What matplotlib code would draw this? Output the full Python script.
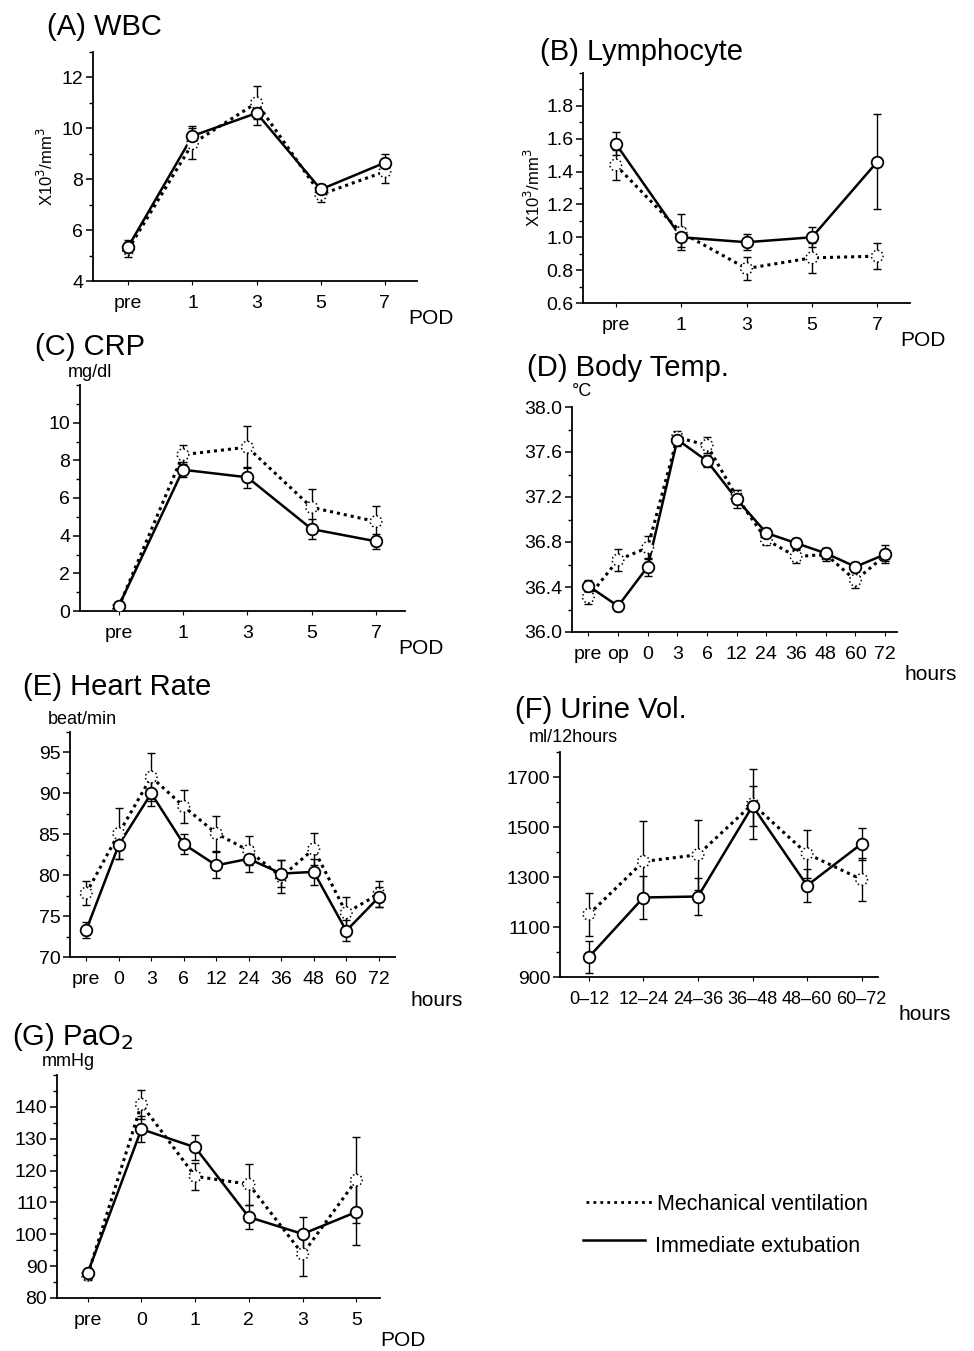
import numpy as np
import matplotlib
matplotlib.use('Agg')
import matplotlib.pyplot as plt
from matplotlib.ticker import MultipleLocator, FormatStrFormatter

plt.rcParams['font.family'] = ['Liberation Sans', 'DejaVu Sans']

#### data ####
# (A) WBC
wbc_x = ['pre', '1', '3', '5', '7']
wbc_ie = [5.35, 9.7, 10.6, 7.6, 8.65]
wbc_ie_err = [0.25, 0.4, 0.45, 0.2, 0.35]
wbc_mv = [5.25, 9.4, 11.0, 7.4, 8.3]
wbc_mv_err = [0.3, 0.6, 0.65, 0.3, 0.45]
wbc_yticks = [4, 6, 8, 10, 12]

# (B) Lymphocyte
lym_x = ['pre', '1', '3', '5', '7']
lym_ie = [1.57, 1.0, 0.97, 1.0, 1.46]
lym_ie_err = [0.07, 0.06, 0.05, 0.06, 0.29]
lym_mv = [1.44, 1.03, 0.81, 0.875, 0.885]
lym_mv_err = [0.09, 0.11, 0.07, 0.09, 0.08]
lym_yticks = [0.6, 0.8, 1.0, 1.2, 1.4, 1.6, 1.8]

# (C) CRP
crp_x = ['pre', '1', '3', '5', '7']
crp_ie = [0.25, 7.5, 7.1, 4.35, 3.7]
crp_ie_err = [0.1, 0.4, 0.55, 0.55, 0.4]
crp_mv = [0.2, 8.3, 8.7, 5.5, 4.75]
crp_mv_err = [0.1, 0.5, 1.1, 1.0, 0.85]
crp_yticks = [0, 2, 4, 6, 8, 10]

# (D) Body temperature
bt_x = ['pre', 'op', '0', '3', '6', '12', '24', '36', '48', '60', '72']
bt_ie = [36.41, 36.23, 36.58, 37.71, 37.52, 37.18, 36.88, 36.79, 36.70, 36.58, 36.69]
bt_ie_err = [0.05, 0.04, 0.08, 0.06, 0.05, 0.08, 0.04, 0.05, 0.05, 0.04, 0.08]
bt_mv = [36.31, 36.64, 36.75, 37.73, 37.66, 37.2, 36.82, 36.67, 36.69, 36.46, 36.68]
bt_mv_err = [0.06, 0.1, 0.1, 0.06, 0.07, 0.06, 0.05, 0.06, 0.06, 0.07, 0.05]
bt_yticks = [36.0, 36.4, 36.8, 37.2, 37.6, 38.0]

# (E) Heart rate
hr_x = ['pre', '0', '3', '6', '12', '24', '36', '48', '60', '72']
hr_ie = [73.3, 83.7, 90.0, 83.8, 81.2, 82.0, 80.2, 80.4, 73.2, 77.3]
hr_ie_err = [1.0, 1.7, 1.5, 1.2, 1.6, 1.6, 1.6, 1.6, 1.3, 1.2]
hr_mv = [77.8, 85.1, 92.0, 88.4, 85.1, 83.0, 79.8, 83.2, 75.4, 77.7]
hr_mv_err = [1.5, 3.1, 2.9, 2.0, 2.1, 1.8, 2.0, 2.0, 1.9, 1.6]
hr_yticks = [70, 75, 80, 85, 90, 95]

# (F) Urine volume
uv_x = ['0\u201312', '12\u201324', '24\u201336', '36\u201348', '48\u201360', '60\u201372']
uv_ie = [980, 1218, 1222, 1584, 1266, 1433]
uv_ie_err = [65, 85, 75, 80, 65, 65]
uv_mv = [1151, 1362, 1389, 1592, 1393, 1290]
uv_mv_err = [85, 163, 140, 140, 95, 85]
uv_yticks = [900, 1100, 1300, 1500, 1700]

# (G) PaO2
pa_x = ['pre', '0', '1', '2', '3', '5']
pa_ie = [87.8, 133.0, 127.3, 105.4, 100.1, 107.0]
pa_ie_err = [1.5, 4.0, 4.0, 3.8, 5.3, 10.4]
pa_mv = [87.2, 140.8, 118.2, 115.7, 93.8, 117.0]
pa_mv_err = [1.5, 4.5, 4.3, 6.5, 6.9, 13.5]
pa_yticks = [80, 90, 100, 110, 120, 130, 140]

W, H = 974, 1351


def make_axes(fig, l, r, t, b):
    return fig.add_axes([l / W, 1 - b / H, (r - l) / W, (b - t) / H])


def panel(ax, labels, ie, ie_err, mv, mv_err, ylim, yticks, minor, fmt, xlim):
    x = np.arange(len(labels))
    ax.errorbar(x, mv, yerr=mv_err, fmt='none', ecolor='black', elinewidth=1,
                capsize=3, capthick=1, zorder=2)
    ax.errorbar(x, ie, yerr=ie_err, fmt='none', ecolor='black', elinewidth=1,
                capsize=3, capthick=1, zorder=2)
    ax.plot(x, mv, color='black', lw=2.2, linestyle=(0, (1, 1.3)), zorder=3)
    ax.plot(x, ie, color='black', lw=1.8, linestyle='-', zorder=3)
    ax.scatter(x, mv, s=70, facecolor='white', edgecolor='black', linewidths=1.1,
               linestyles=':', zorder=4)
    ax.scatter(x, ie, s=70, facecolor='white', edgecolor='black', linewidths=1.3,
               zorder=5)
    ax.set_xticks(x)
    ax.set_xticklabels(labels)
    ax.set_xlim(xlim)
    ax.set_ylim(ylim)
    ax.set_yticks(yticks)
    ax.yaxis.set_minor_locator(MultipleLocator(minor))
    ax.yaxis.set_major_formatter(FormatStrFormatter(fmt))
    for s in ['top', 'right']:
        ax.spines[s].set_visible(False)
    ax.spines['left'].set_linewidth(1.3)
    ax.spines['bottom'].set_linewidth(1.3)
    ax.tick_params(axis='y', which='major', direction='out', length=5, width=1.1,
                   labelsize=14, pad=2)
    ax.tick_params(axis='y', which='minor', direction='out', length=3, width=1)
    ax.tick_params(axis='x', direction='out', length=3, width=0.8, labelsize=14, pad=7)


fig = plt.figure(figsize=(W / 100, H / 100), dpi=100)
fig.patch.set_facecolor('white')

title_fs = 21
unit_fs = 13

# (A)
ax = make_axes(fig, 93, 417, 52, 281)
panel(ax, wbc_x, wbc_ie, wbc_ie_err, wbc_mv, wbc_mv_err, (4, 13), wbc_yticks, 1, '%d', (-0.55, 4.5))
ax.set_ylabel('X10$^3$/mm$^3$', fontsize=12, labelpad=4)
fig.text(47 / W, 1 - 27 / H, '(A) WBC', fontsize=title_fs, va='center')
fig.text(408 / W, 1 - 318 / H, 'POD', fontsize=15, va='center')

# (B)
ax = make_axes(fig, 583, 910, 73, 303)
panel(ax, lym_x, lym_ie, lym_ie_err, lym_mv, lym_mv_err, (0.6, 2.0), lym_yticks, 0.1, '%.1f', (-0.5, 4.5))
ax.set_ylabel('X10$^3$/mm$^3$', fontsize=12, labelpad=2)
fig.text(540 / W, 1 - 52 / H, '(B) Lymphocyte', fontsize=title_fs, va='center')
fig.text(900 / W, 1 - 340 / H, 'POD', fontsize=15, va='center')

# (C)
ax = make_axes(fig, 80, 405, 385, 611)
panel(ax, crp_x, crp_ie, crp_ie_err, crp_mv, crp_mv_err, (0, 12), crp_yticks, 1, '%d', (-0.6, 4.45))
fig.text(35 / W, 1 - 347 / H, '(C) CRP', fontsize=title_fs, va='center')
fig.text(90 / W, 1 - 372 / H, 'mg/dl', fontsize=unit_fs, va='center', ha='center')
fig.text(398 / W, 1 - 648 / H, 'POD', fontsize=15, va='center')

# (D)
ax = make_axes(fig, 572, 897, 407, 632)
panel(ax, bt_x, bt_ie, bt_ie_err, bt_mv, bt_mv_err, (36.0, 38.0), bt_yticks, 0.2, '%.1f', (-0.55, 10.4))
fig.text(527 / W, 1 - 368 / H, '(D) Body Temp.', fontsize=title_fs, va='center')
fig.text(582 / W, 1 - 392 / H, '\u00b0C', fontsize=unit_fs, va='center', ha='center')
fig.text(905 / W, 1 - 675 / H, 'hours', fontsize=15, va='center')

# (E)
ax = make_axes(fig, 70, 395, 732, 957)
panel(ax, hr_x, hr_ie, hr_ie_err, hr_mv, hr_mv_err, (70, 97.5), hr_yticks, 2.5, '%d', (-0.5, 9.5))
fig.text(23 / W, 1 - 687 / H, '(E) Heart Rate', fontsize=title_fs, va='center')
fig.text(82 / W, 1 - 720 / H, 'beat/min', fontsize=unit_fs, va='center', ha='center')
fig.text(410 / W, 1 - 1000 / H, 'hours', fontsize=15, va='center')

# (F)
ax = make_axes(fig, 560, 878, 752, 977)
panel(ax, uv_x, uv_ie, uv_ie_err, uv_mv, uv_mv_err, (900, 1800), uv_yticks, 100, '%d', (-0.53, 5.3))
ax.tick_params(axis='x', labelsize=13)
fig.text(515 / W, 1 - 710 / H, '(F) Urine Vol.', fontsize=title_fs, va='center')
fig.text(573 / W, 1 - 738 / H, 'ml/12hours', fontsize=unit_fs, va='center', ha='center')
fig.text(898 / W, 1 - 1015 / H, 'hours', fontsize=15, va='center')

# (G)
ax = make_axes(fig, 57, 380, 1075, 1298)
panel(ax, pa_x, pa_ie, pa_ie_err, pa_mv, pa_mv_err, (80, 150), pa_yticks, 5, '%d', (-0.57, 5.44))
fig.text(12 / W, 1 - 1037 / H, '(G) PaO$_2$', fontsize=title_fs, va='center')
fig.text(68 / W, 1 - 1062 / H, 'mmHg', fontsize=unit_fs, va='center', ha='center')
fig.text(380 / W, 1 - 1340 / H, 'POD', fontsize=15, va='center')

# legend drawn in figure coords
fig.add_artist(plt.Line2D([586 / W, 652 / W], [1 - 1202 / H, 1 - 1202 / H],
                          color='black', lw=2.0, linestyle=(0, (1, 1.5))))
fig.add_artist(plt.Line2D([583 / W, 645 / W], [1 - 1240 / H, 1 - 1240 / H],
                          color='black', lw=1.8))
fig.text(657 / W, 1 - 1205 / H, 'Mechanical ventilation', fontsize=15.5, va='center')
fig.text(655 / W, 1 - 1247 / H, 'Immediate extubation', fontsize=15.5, va='center')

fig.savefig('out.png', dpi=100, facecolor='white')
